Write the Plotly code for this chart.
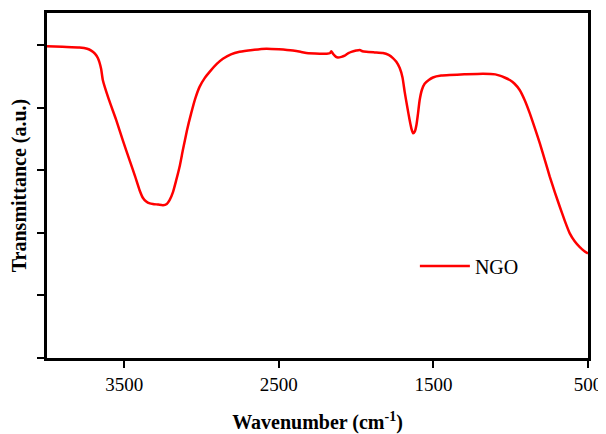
import plotly.graph_objects as go

wavenumber = [4000, 3900, 3790, 3740, 3714, 3690, 3671, 3650, 3639, 3600, 3552, 3510, 3466, 3430,
              3401, 3380, 3358, 3335, 3315, 3280, 3250, 3225, 3207, 3185, 3164, 3140, 3121, 3095,
              3067, 3040, 3013, 2980, 2948, 2900, 2862, 2810, 2754, 2670, 2581, 2500, 2409, 2360,
              2322, 2236, 2190, 2168, 2161, 2150, 2130, 2118, 2095, 2074, 2050, 2031, 2000, 1977,
              1960, 1934, 1880, 1827, 1790, 1762, 1740, 1718, 1700, 1686, 1670, 1654, 1642, 1632,
              1620, 1610, 1600, 1589, 1575, 1557, 1530, 1503, 1450, 1395, 1300, 1179, 1100, 1071,
              1040, 1006, 975, 942, 910, 877, 845, 812, 780, 748, 715, 683, 650, 618, 585, 553,
              525, 500]
transmittance = [4.98, 4.97, 4.96, 4.94, 4.91, 4.86, 4.79, 4.62, 4.44, 4.13, 3.80, 3.48, 3.16, 2.90,
                 2.68, 2.56, 2.50, 2.47, 2.46, 2.45, 2.44, 2.46, 2.52, 2.65, 2.84, 3.08, 3.32, 3.63,
                 3.91, 4.15, 4.33, 4.47, 4.57, 4.70, 4.78, 4.85, 4.89, 4.92, 4.94, 4.93, 4.91, 4.89,
                 4.87, 4.86, 4.86, 4.87, 4.90, 4.86, 4.81, 4.80, 4.81, 4.83, 4.87, 4.89, 4.91, 4.92,
                 4.90, 4.89, 4.88, 4.87, 4.84, 4.79, 4.73, 4.63, 4.48, 4.25, 4.02, 3.80, 3.66, 3.59,
                 3.62, 3.72, 3.90, 4.12, 4.28, 4.38, 4.44, 4.48, 4.51, 4.52, 4.53, 4.54, 4.53, 4.51,
                 4.48, 4.44, 4.38, 4.28, 4.12, 3.91, 3.68, 3.43, 3.17, 2.90, 2.65, 2.42, 2.19, 1.99,
                 1.86, 1.77, 1.71, 1.67]
x_ticks = [3500, 2500, 1500, 500]
y_ticks = [0, 1, 2, 3, 4, 5]

fig = go.Figure()
fig.add_trace(go.Scatter(x=wavenumber, y=transmittance, mode="lines", name="NGO",
                         line=dict(color="#FF0000", width=2.5, shape="spline", smoothing=0.5)))

font_family = "Liberation Serif"
fig.update_layout(
    width=598, height=426,
    margin=dict(l=39, r=18, t=5, b=76, autoexpand=False),
    paper_bgcolor="white", plot_bgcolor="white",
    font=dict(family=font_family, color="black", size=19),
    showlegend=True,
    legend=dict(x=0.68, y=0.267, xanchor="left", yanchor="middle",
                bgcolor="rgba(0,0,0,0)", font=dict(size=20, family=font_family),
                itemwidth=50),
    xaxis=dict(range=[4000, 500], tickvals=x_ticks, ticktext=[str(v) for v in x_ticks],
               ticks="outside", ticklen=7, tickwidth=2, tickcolor="black",
               showline=True, linecolor="black", linewidth=2.5, mirror=True,
               showgrid=False, zeroline=False, automargin=False,
               tickfont=dict(size=19, family=font_family),
               title=dict(text="<b>Wavenumber (cm<sup>-1</sup>)</b>", standoff=24,
                          font=dict(size=20, family=font_family))),
    yaxis=dict(range=[0, 5.51], tickvals=y_ticks, showticklabels=False,
               ticks="outside", ticklen=7, tickwidth=2, tickcolor="black",
               showline=True, linecolor="black", linewidth=2.5, mirror=True,
               showgrid=False, zeroline=False, automargin=False,
               title=dict(text="<b>Transmittance (a.u.)</b>", standoff=8,
                          font=dict(size=20, family=font_family))),
)

fig.write_html("out.html")
